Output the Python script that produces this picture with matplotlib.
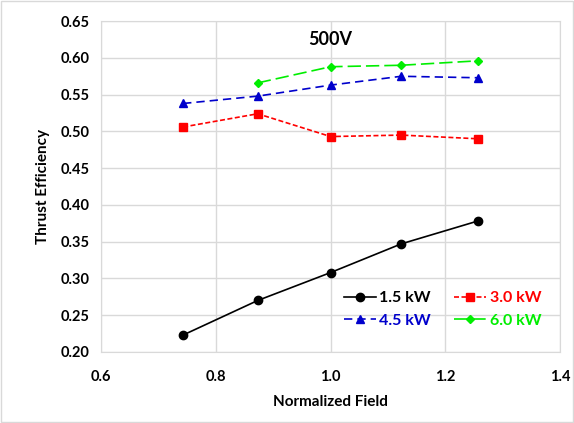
import matplotlib.pyplot as plt
from matplotlib.patches import Rectangle

plt.rcParams['font.family'] = ['Lato', 'DejaVu Sans']
plt.rcParams['font.weight'] = 'bold'

field = [0.743, 0.873, 1.0, 1.123, 1.256]
eff_15 = [0.223, 0.270, 0.308, 0.347, 0.378]
eff_30 = [0.506, 0.524, 0.493, 0.495, 0.490]
eff_45 = [0.538, 0.548, 0.563, 0.575, 0.573]
field_60 = [0.873, 1.0, 1.123, 1.256]
eff_60 = [0.566, 0.588, 0.590, 0.596]

fig = plt.figure(figsize=(5.74, 4.23), dpi=100)
ax = fig.add_axes([0.176, 0.168, 0.800, 0.782])

l15, = ax.plot(field, eff_15, '-', color='black', marker='o', ms=6, lw=1.2, label='1.5 kW')
l30, = ax.plot(field, eff_30, color='red', ls=(0, (3, 1.5)), marker='s', ms=6, lw=1.2, label='3.0 kW')
l45, = ax.plot(field, eff_45, color='#0000cc', ls=(0, (5, 3)), marker='^', ms=6, lw=1.2, label='4.5 kW')
l60, = ax.plot(field_60, eff_60, color='#00ee00', ls=(0, (8, 3)), marker='D', ms=4, lw=1.2, label='6.0 kW')

ax.set_xlim(0.6, 1.4)
ax.set_ylim(0.20, 0.65)
ax.set_xticks([0.6, 0.8, 1.0, 1.2, 1.4])
ax.set_yticks([0.20 + 0.05 * i for i in range(10)])
ax.xaxis.set_major_formatter(plt.FormatStrFormatter('%.1f'))
ax.yaxis.set_major_formatter(plt.FormatStrFormatter('%.2f'))
ax.tick_params(axis='y', length=0, labelsize=10.5, pad=8)
ax.tick_params(axis='x', length=0, labelsize=10.5, pad=13)
ax.grid(color='#d9d9d9', lw=1)
for s in ax.spines.values():
    s.set_color('#d9d9d9')
ax.set_axisbelow(True)

ax.set_xlabel('Normalized Field', fontsize=11, fontweight='bold', labelpad=8)
ax.set_ylabel('Thrust Efficiency', fontsize=11, fontweight='bold', labelpad=8)
ax.text(1.0, 0.625, '500V', ha='center', va='center', fontsize=13, fontweight='bold')

handles = [l15, l45, l30, l60]
leg = ax.legend(handles=handles, ncol=2, loc='lower right', bbox_to_anchor=(0.99, 0.03),
                frameon=False, fontsize=11.5, handlelength=2, handletextpad=0.2,
                columnspacing=1.5)
for txt, line in zip(leg.get_texts(), leg.get_lines()):
    txt.set_color(line.get_color())

fig.patches.append(Rectangle((0.002, 0.002), 0.996, 0.996, transform=fig.transFigure,
                             fill=False, ec='#d9d9d9', lw=1))

fig.savefig('out.png', dpi=100)
